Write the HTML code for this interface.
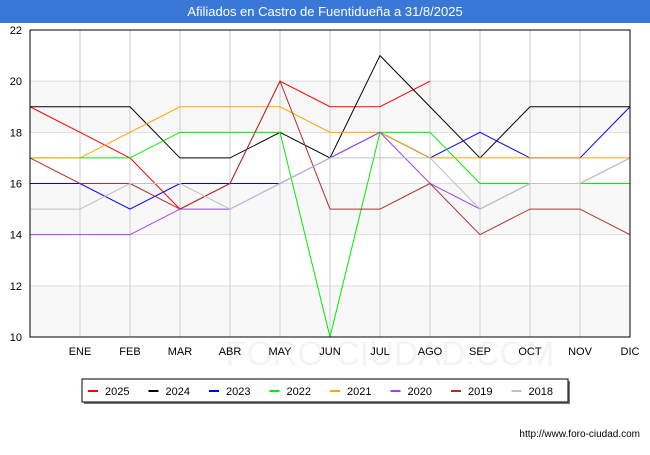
<!DOCTYPE html>
<html><head><meta charset="utf-8"><style>
body{margin:0;background:#fff;font-family:"Liberation Sans",sans-serif}
svg text{font-family:"Liberation Sans",sans-serif}
</style></head><body>
<svg id="c" width="650" height="450">
<rect x="0" y="0" width="650" height="23" fill="#3a78d8"/>
<text x="325" y="16" text-anchor="middle" font-size="13" fill="#fff">Afiliados en Castro de Fuentidueña a 31/8/2025</text>
<g id="bands"></g>
<text x="390" y="365" text-anchor="middle" font-size="34" fill="#f4f4f4">FORO-CIUDAD.COM</text>
<g id="grid"></g><g id="series"></g><g id="axes"></g>
<rect x="84" y="381" width="486" height="23" fill="#777"/>
<rect x="82" y="379" width="486" height="23" fill="#fff" stroke="#000" stroke-width="1"/>
<g id="legend"></g>
<text x="640" y="437" text-anchor="end" font-size="10" fill="#000">http://www.foro-ciudad.com</text>
</svg>
<script>
const months=["","ENE","FEB","MAR","ABR","MAY","JUN","JUL","AGO","SEP","OCT","NOV","DIC"];
const yTicks=[10,12,14,16,18,20,22];
const seriesNames=["2025","2024","2023","2022","2021","2020","2019","2018"];
const seriesColors=["#ff0000","#000000","#0000ff","#00ee00","#ffa500","#a040f0","#b03030","#c0c0c0"];
const s2025=[19,18,17,15,16,20,19,19,20];
const s2024=[19,19,19,17,17,18,17,21,19,17,19,19,19];
const s2023=[16,16,15,16,16,16,17,18,17,18,17,17,19];
const s2022=[17,17,17,18,18,18,10,18,18,16,16,16,16];
const s2021=[17,17,18,19,19,19,18,18,17,17,17,17,17];
const s2020=[14,14,14,15,15,16,17,18,16,15,16,16,17];
const s2019=[17,16,16,15,16,20,15,15,16,14,15,15,14];
const s2018=[15,15,16,16,15,16,17,17,17,15,16,16,17];
const all=[s2025,s2024,s2023,s2022,s2021,s2020,s2019,s2018];
const X0=30,X1=630,Y0=337,Y1=30,ymin=10,ymax=22;
const xs=i=>X0+i*(X1-X0)/(months.length-1);
const ys=v=>Y0-(v-ymin)*(Y0-Y1)/(ymax-ymin);
const NS="http://www.w3.org/2000/svg";
function mk(t,a,p){const e=document.createElementNS(NS,t);for(const k in a)e.setAttribute(k,a[k]);document.getElementById(p).appendChild(e);return e;}
[[18,20],[14,16],[10,12]].forEach(b=>{const e=mk("rect",{x:X0,y:ys(b[1]),width:X1-X0,height:ys(b[0])-ys(b[1]),fill:"#f8f8f8"},"bands");

});
yTicks.forEach(v=>{const l=mk("line",{x1:X0,x2:X1,y1:ys(v),y2:ys(v),stroke:"#ddd"},"grid");


const t=mk("text",{x:X0-8,y:ys(v)+4,"text-anchor":"end","font-size":"11"},"axes");t.textContent=v;

});
months.forEach((m,i)=>{if(i>0){const l=mk("line",{x1:xs(i),x2:xs(i),y1:Y1,y2:Y0,stroke:"#ccc"},"grid");

}
const t=mk("text",{x:xs(i),y:Y0+18,"text-anchor":"middle","font-size":"11"},"axes");t.textContent=m;

});
const fr=mk("rect",{x:X0,y:Y1,width:X1-X0,height:Y0-Y1,fill:"none",stroke:"#000"},"axes");


for(let k=0;k<all.length;k++){const pts=all[k].map((v,i)=>xs(i)+","+ys(v)).join(" ");
const p=mk("polyline",{points:pts,fill:"none",stroke:seriesColors[k],"stroke-width":"1"},"series");

}
seriesNames.forEach((n,k)=>{const x=88+k*60.5;
const l=mk("line",{x1:x,x2:x+10,y1:391,y2:391,stroke:seriesColors[k],"stroke-width":"2"},"legend");


const t=mk("text",{x:x+17,y:395,"font-size":"11"},"legend");t.textContent=n;

});
</script>
</body></html>
